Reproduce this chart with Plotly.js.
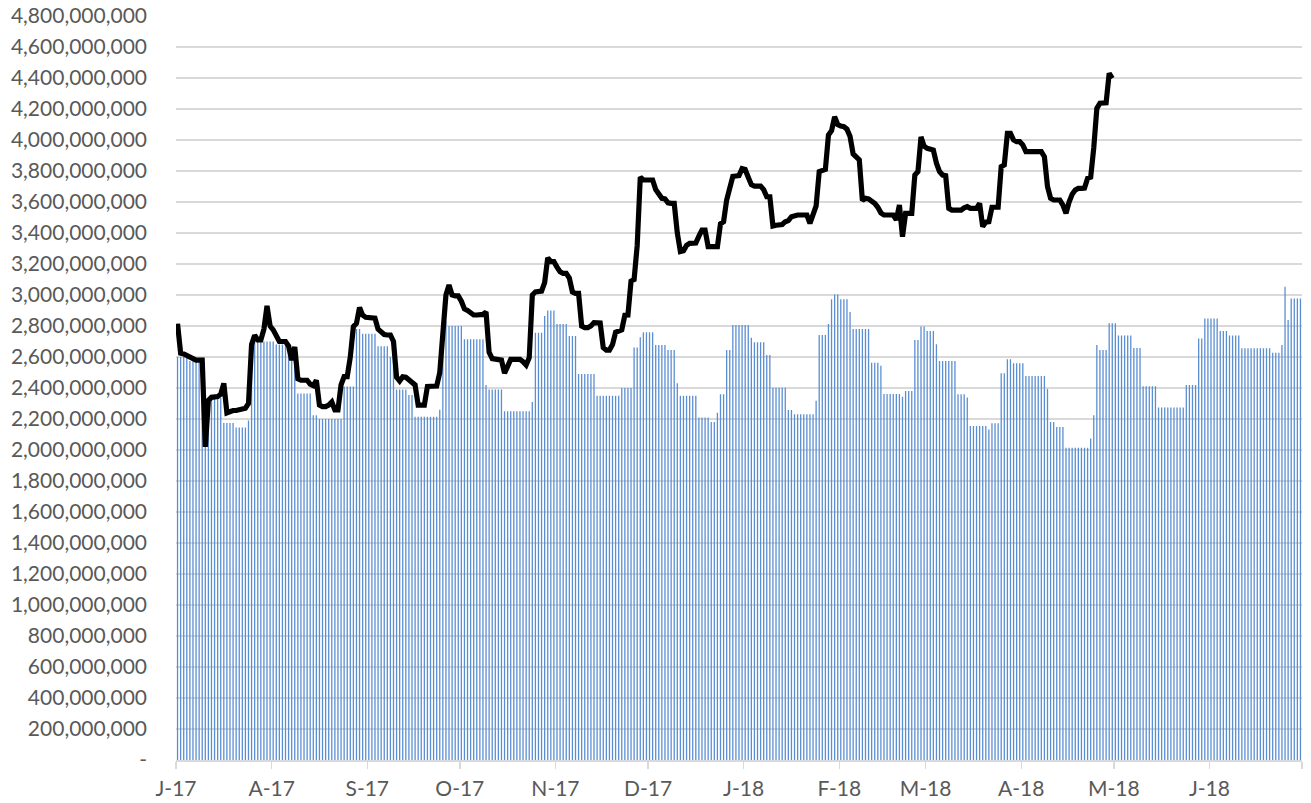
<!DOCTYPE html>
<html>
<head>
<meta charset="utf-8">
<script src="https://cdn.plot.ly/plotly-3.0.1.min.js"></script>
<style>
  html, body { margin: 0; padding: 0; background: #ffffff; }
  #chart { width: 1311px; height: 803px; }
</style>
</head>
<body>
<div id="chart"></div>
<script>
// ---- DATA (values in millions) ----
const startDate = '2017-07-01';

// Daily bar values, Jul-2017 .. Jun-2018
const barsJul17 = [2600,2600,2600,2600,2575,2575,2575,2575,2575,2335,2335,2335,2335,2335,2335,2175,2175,2175,2175,2145,2145,2145,2145,2190,2700,2700,2700,2700,2700,2700,2700];
const barsAug17 = [2700,2680,2680,2680,2680,2620,2620,2620,2365,2365,2365,2365,2365,2225,2225,2200,2200,2200,2200,2200,2200,2200,2200,2410,2410,2410,2410,2780,2780,2750,2750];
const barsSep17 = [2750,2750,2750,2670,2670,2670,2670,2600,2600,2390,2390,2390,2390,2355,2355,2215,2215,2215,2215,2215,2215,2215,2215,2260,2710,2830,2800,2800,2800,2800];
const barsOct17 = [2800,2715,2715,2715,2715,2715,2715,2715,2420,2390,2390,2390,2390,2390,2250,2250,2250,2250,2250,2250,2250,2250,2250,2310,2757,2757,2757,2865,2900,2900,2900];
const barsNov17 = [2813,2813,2813,2813,2735,2735,2735,2490,2490,2490,2490,2490,2490,2350,2350,2350,2350,2350,2350,2350,2350,2400,2400,2400,2400,2662,2662,2727,2759,2759];
const barsDec17 = [2759,2759,2677,2677,2677,2677,2645,2645,2645,2430,2350,2350,2350,2350,2350,2350,2210,2210,2210,2210,2180,2180,2240,2360,2360,2645,2645,2806,2806,2806,2806];
const barsJan18 = [2806,2806,2725,2695,2695,2695,2695,2613,2613,2402,2402,2402,2402,2402,2258,2258,2230,2230,2230,2230,2230,2230,2230,2318,2742,2742,2742,2813,2972,3004,3004];
const barsFeb18 = [2972,2972,2972,2890,2780,2780,2780,2780,2780,2780,2563,2563,2563,2544,2361,2361,2361,2361,2361,2361,2344,2381,2381,2381,2710,2710,2796,2796];
const barsMar18 = [2768,2768,2768,2682,2574,2574,2574,2574,2574,2574,2360,2360,2360,2338,2155,2155,2155,2155,2155,2155,2133,2172,2172,2172,2495,2495,2585,2585,2559,2559,2559];
const barsApr18 = [2559,2477,2477,2477,2477,2477,2477,2477,2394,2181,2181,2149,2149,2149,2015,2015,2015,2015,2015,2015,2015,2015,2075,2224,2678,2645,2645,2645,2817,2817];
const barsMay18 = [2817,2738,2738,2738,2738,2738,2658,2658,2658,2411,2411,2411,2411,2411,2275,2275,2275,2275,2275,2275,2275,2275,2275,2420,2420,2420,2420,2720,2720,2849,2849];
const barsJun18 = [2849,2849,2849,2768,2768,2768,2738,2738,2738,2738,2656,2656,2656,2656,2656,2656,2656,2656,2656,2656,2628,2628,2628,2677,3054,2839,2978,2978,2978,2978];

// Daily line values, Jul-2017 .. Apr-2018
const lineJul17 = [2815,2625,2620,2610,2600,2585,2580,2580,2580,2020,2320,2340,2345,2345,2360,2430,2240,2250,2255,2255,2258,2262,2270,2300,2680,2740,2710,2710,2780,2930,2800];
const lineAug17 = [2775,2740,2700,2700,2700,2670,2580,2665,2460,2450,2450,2450,2425,2415,2450,2290,2280,2280,2290,2310,2258,2258,2420,2473,2473,2600,2796,2817,2920,2870,2856];
const lineSep17 = [2856,2856,2850,2780,2765,2745,2742,2742,2700,2470,2445,2473,2470,2450,2440,2420,2290,2290,2290,2410,2413,2413,2413,2500,2800,3000,3065,3000,2994,2994];
const lineOct17 = [2960,2910,2900,2880,2871,2871,2871,2875,2890,2630,2590,2585,2585,2580,2495,2540,2585,2585,2585,2585,2570,2548,2595,3000,3020,3020,3025,3080,3240,3215,3215];
const lineNov17 = [3180,3150,3140,3140,3110,3020,3010,3010,2800,2790,2790,2800,2822,2822,2820,2660,2645,2645,2680,2760,2770,2775,2870,2871,3090,3100,3320,3760,3742,3742];
const lineDec17 = [3742,3742,3680,3645,3624,3620,3595,3591,3591,3400,3280,3285,3320,3333,3333,3335,3380,3419,3419,3312,3312,3312,3312,3460,3473,3613,3700,3765,3768,3770,3815];
const lineJan18 = [3810,3760,3712,3703,3703,3703,3680,3634,3634,3445,3450,3452,3455,3473,3480,3505,3512,3516,3516,3516,3516,3462,3530,3575,3796,3806,3810,4032,4060,4150,4100];
const lineFeb18 = [4090,4086,4070,4022,3910,3890,3871,3610,3624,3620,3610,3591,3566,3530,3516,3516,3516,3516,3484,3581,3376,3527,3527,3527,3774,3796,4020,3960];
const lineMar18 = [3946,3940,3935,3850,3796,3774,3770,3559,3548,3548,3548,3548,3562,3570,3559,3559,3559,3591,3441,3470,3473,3566,3566,3566,3828,3839,4043,4043,4000,3989,3989];
const lineApr18 = [3968,3925,3925,3925,3925,3925,3925,3892,3700,3624,3613,3613,3613,3580,3527,3600,3650,3677,3688,3688,3690,3753,3760,3950,4204,4237,4237,4240,4430,4398];

// Axis ticks
const monthTicks = ['2017-07-01','2017-08-01','2017-09-01','2017-10-01','2017-11-01','2017-12-01','2018-01-01','2018-02-01','2018-03-01','2018-04-01','2018-05-01','2018-06-01','2018-07-01'];
const monthLabels = ['J-17','A-17','S-17','O-17','N-17','D-17','J-18','F-18','M-18','A-18','M-18','J-18',''];
const yTickVals = [0,2e8,4e8,6e8,8e8,1e9,1.2e9,1.4e9,1.6e9,1.8e9,2e9,2.2e9,2.4e9,2.6e9,2.8e9,3e9,3.2e9,3.4e9,3.6e9,3.8e9,4e9,4.2e9,4.4e9,4.6e9,4.8e9];
const yTickText = ['-','200,000,000','400,000,000','600,000,000','800,000,000','1,000,000,000','1,200,000,000','1,400,000,000','1,600,000,000','1,800,000,000','2,000,000,000','2,200,000,000','2,400,000,000','2,600,000,000','2,800,000,000','3,000,000,000','3,200,000,000','3,400,000,000','3,600,000,000','3,800,000,000','4,000,000,000','4,200,000,000','4,400,000,000','4,600,000,000','4,800,000,000'];

// ---- BUILD ----
const barVals = [].concat(barsJul17, barsAug17, barsSep17, barsOct17, barsNov17, barsDec17,
                          barsJan18, barsFeb18, barsMar18, barsApr18, barsMay18, barsJun18).map(v => v * 1e6);
const lineVals = [].concat(lineJul17, lineAug17, lineSep17, lineOct17, lineNov17, lineDec17,
                           lineJan18, lineFeb18, lineMar18, lineApr18).map(v => v * 1e6);

function dayString(i) {
  const d = new Date(Date.parse(startDate + 'T00:00:00Z') + i * 86400000);
  const p = n => String(n).padStart(2, '0');
  return d.getUTCFullYear() + '-' + p(d.getUTCMonth() + 1) + '-' + p(d.getUTCDate()) + ' 12:00';
}
const barDates = barVals.map((_, i) => dayString(i));
const lineDates = lineVals.map((_, i) => dayString(i));

const textColor = '#595959';
const fontFamily = 'Lato, "Liberation Sans", Arial, sans-serif';

const traces = [
  {
    type: 'bar',
    x: barDates,
    y: barVals,
    marker: { color: '#5a8ed2', line: { width: 0 } },
    hoverinfo: 'x+y'
  },
  {
    type: 'scatter',
    mode: 'lines',
    x: lineDates,
    y: lineVals,
    line: { color: '#000000', width: 5.2, shape: 'linear' },
    hoverinfo: 'x+y'
  }
];

const layout = {
  width: 1311,
  height: 803,
  margin: { l: 176, r: 9, t: 16, b: 43, pad: 0 },
  paper_bgcolor: '#ffffff',
  plot_bgcolor: '#ffffff',
  showlegend: false,
  bargap: 0.58,
  font: { family: fontFamily, color: textColor, size: 21 },
  xaxis: {
    type: 'date',
    range: ['2017-07-01', '2018-07-01'],
    tickmode: 'array',
    tickvals: monthTicks,
    ticktext: monthLabels,
    showgrid: false,
    showline: true,
    linecolor: '#d9d9d9',
    linewidth: 1.5,
    ticks: 'outside',
    ticklen: 7,
    tickwidth: 1.5,
    tickcolor: '#d9d9d9',
    tickfont: { family: fontFamily, size: 21, color: textColor },
    ticklabelstandoff: 2,
    zeroline: false,
    fixedrange: true
  },
  yaxis: {
    range: [0, 4.8e9],
    tickmode: 'array',
    tickvals: yTickVals,
    ticktext: yTickText,
    showgrid: true,
    gridcolor: '#d9d9d9',
    gridwidth: 1.2,
    showline: false,
    zeroline: false,
    ticks: '',
    tickfont: { family: fontFamily, size: 21, color: textColor },
    ticklabelstandoff: 28,
    fixedrange: true
  }
};

Plotly.newPlot('chart', traces, layout, { displayModeBar: false, staticPlot: true });
</script>
</body>
</html>
